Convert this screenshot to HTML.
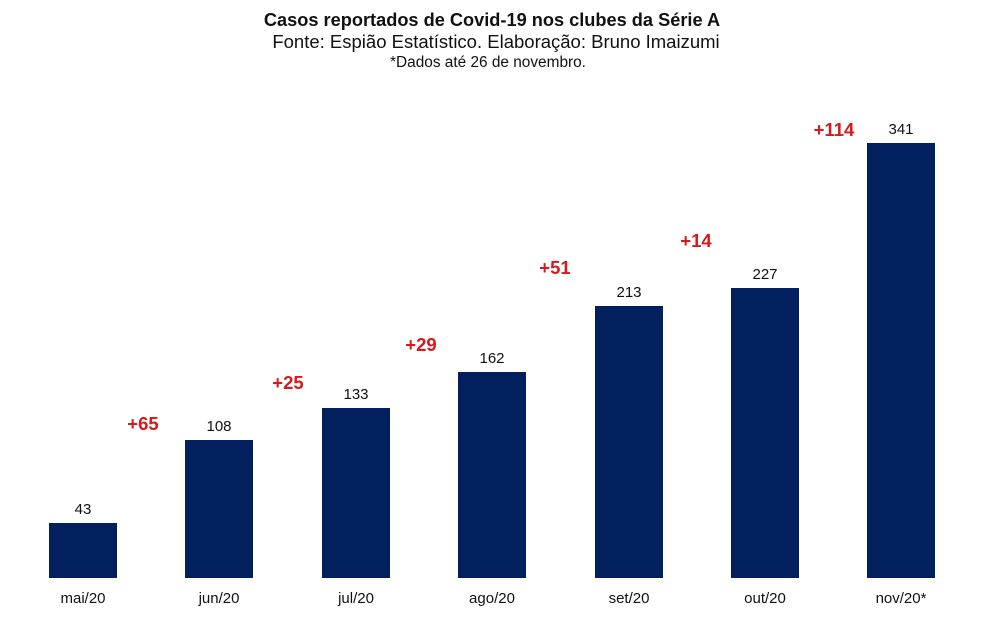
<!DOCTYPE html>
<html><head><meta charset="utf-8"><style>
html,body{margin:0;padding:0;background:#fff;}
body{width:984px;height:613px;overflow:hidden;}
</style></head><body>
<svg width="984" height="613" xmlns="http://www.w3.org/2000/svg" font-family="Liberation Sans, Arial, sans-serif">
<text x="492" y="26" text-anchor="middle" font-size="18.2" font-weight="bold" fill="#111">Casos reportados de Covid-19 nos clubes da Série A</text>
<text x="496" y="48" text-anchor="middle" font-size="18.5" fill="#111">Fonte: Espião Estatístico. Elaboração: Bruno Imaizumi</text>
<text x="488" y="67" text-anchor="middle" font-size="15.4" fill="#111">*Dados até 26 de novembro.</text>
<g fill="#02205e">
<rect x="49" y="523" width="68" height="55"/>
<rect x="185" y="440" width="68" height="138"/>
<rect x="322" y="408" width="68" height="170"/>
<rect x="458" y="372" width="68" height="206"/>
<rect x="595" y="306" width="68" height="272"/>
<rect x="731" y="288" width="68" height="290"/>
<rect x="867" y="143" width="68" height="435"/>
</g>
<g font-size="15" fill="#111" text-anchor="middle">
<text x="83" y="514">43</text>
<text x="219" y="431">108</text>
<text x="356" y="399">133</text>
<text x="492" y="363">162</text>
<text x="629" y="297">213</text>
<text x="765" y="279">227</text>
<text x="901" y="134">341</text>
<text x="83" y="603">mai/20</text>
<text x="219" y="603">jun/20</text>
<text x="356" y="603">jul/20</text>
<text x="492" y="603">ago/20</text>
<text x="629" y="603">set/20</text>
<text x="765" y="603">out/20</text>
<text x="901" y="603">nov/20*</text>
</g>
<g font-size="18.5" font-weight="bold" fill="#d7191c" text-anchor="middle">
<text x="143" y="430">+65</text>
<text x="288" y="389">+25</text>
<text x="421" y="351">+29</text>
<text x="555" y="274">+51</text>
<text x="696" y="247">+14</text>
<text x="834" y="136">+114</text>
</g>
</svg>
</body></html>
